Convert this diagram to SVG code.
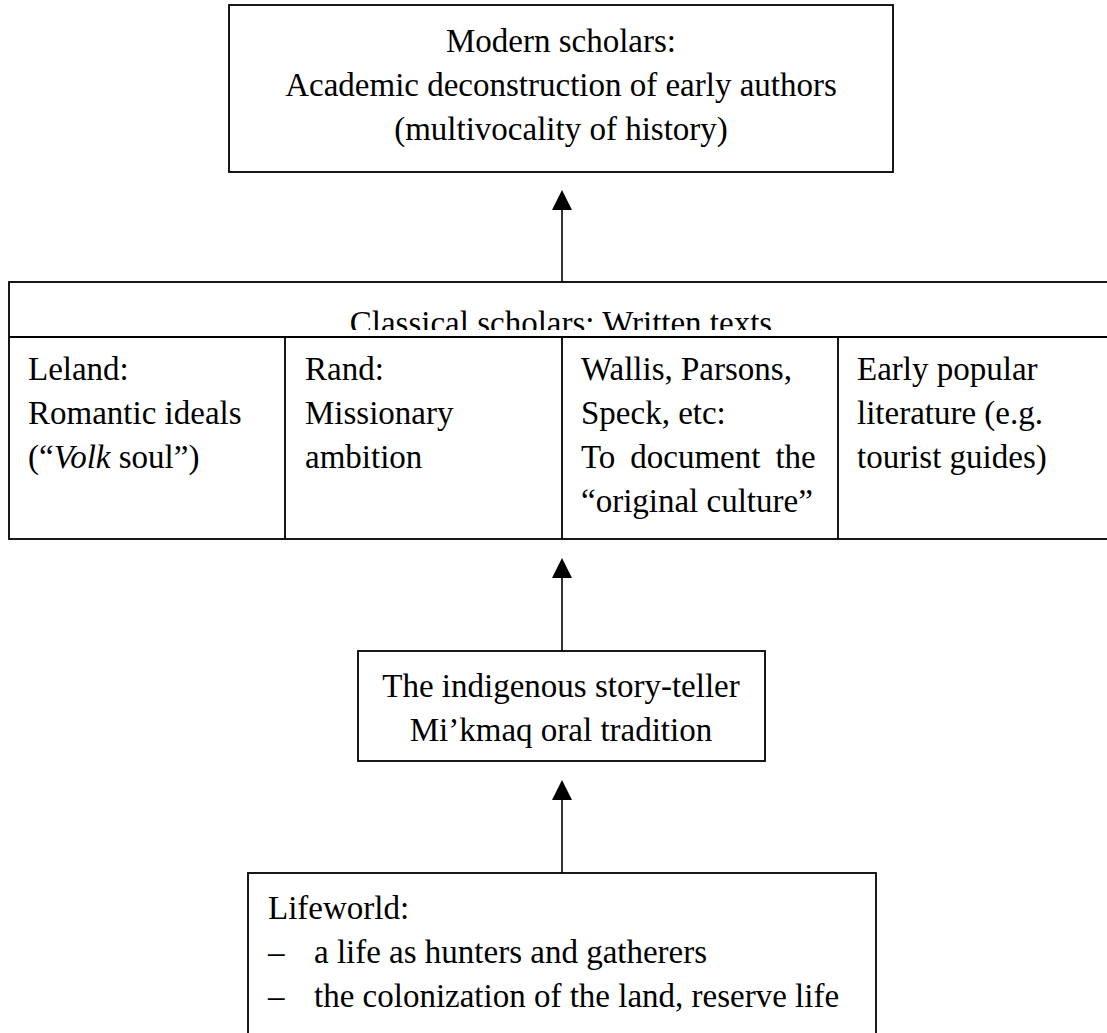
<svg xmlns="http://www.w3.org/2000/svg" width="1107" height="1033" viewBox="0 0 1107 1033">
<style>
  .box { fill: #ffffff; stroke: #000000; stroke-width: 1.8; }
  .ln { stroke: #000000; stroke-width: 1.8; fill: none; }
  .conn { stroke: #000000; stroke-width: 1.6; fill: none; }
  .t { font-family: "Liberation Serif", "Times New Roman", serif; font-size: 33px; fill: #000000; }
  .c { text-anchor: middle; }
</style>
<defs>
  <marker id="arrow" viewBox="0 0 20 20" refX="10" refY="0" markerWidth="20" markerHeight="20" markerUnits="userSpaceOnUse" orient="auto-start-reverse">
    <path d="M0,0 L10,0 L20,20 L0,20 Z" fill="none"/>
  </marker>
  <clipPath id="hdrclip"><rect x="0" y="282" width="1107" height="48"/></clipPath>
</defs>
<rect width="1107" height="1033" fill="#ffffff"/>

<g id="connectors">
  <line class="conn" x1="562" y1="282" x2="562" y2="208"/>
  <polygon points="562,190 552,210 572,210" fill="#000000"/>
  <line class="conn" x1="562" y1="651" x2="562" y2="576"/>
  <polygon points="562,558 552,578 572,578" fill="#000000"/>
  <line class="conn" x1="562" y1="873" x2="562" y2="798"/>
  <polygon points="562,780 552,800 572,800" fill="#000000"/>
</g>

<g id="node-modern">
  <rect class="box" x="229" y="5" width="664" height="167"/>
  <text class="t c" x="561" y="52">Modern scholars:</text>
  <text class="t c" x="561" y="96">Academic deconstruction of early authors</text>
  <text class="t c" x="561" y="140">(multivocality of history)</text>
</g>

<g id="node-classical">
  <rect class="box" x="9" y="282" width="1120" height="257"/>
  <line class="ln" x1="9" y1="337" x2="1120" y2="337"/>
  <line class="ln" x1="285" y1="337" x2="285" y2="539"/>
  <line class="ln" x1="562" y1="337" x2="562" y2="539"/>
  <line class="ln" x1="838" y1="337" x2="838" y2="539"/>
  <text class="t c" x="561" y="334" clip-path="url(#hdrclip)">Classical scholars: Written texts</text>
  <g id="cell-leland">
    <text class="t" x="28" y="380">Leland:</text>
    <text class="t" x="28" y="424">Romantic ideals</text>
    <text class="t" x="28" y="468">(“<tspan font-style="italic">Volk</tspan> soul”)</text>
  </g>
  <g id="cell-rand">
    <text class="t" x="305" y="380">Rand:</text>
    <text class="t" x="305" y="424">Missionary</text>
    <text class="t" x="305" y="468">ambition</text>
  </g>
  <g id="cell-wallis">
    <text class="t" x="581" y="380">Wallis, Parsons,</text>
    <text class="t" x="581" y="424">Speck, etc:</text>
    <text class="t" x="581" y="468" word-spacing="6.7">To document the</text>
    <text class="t" x="581" y="512">“original culture”</text>
  </g>
  <g id="cell-popular">
    <text class="t" x="857" y="380">Early popular</text>
    <text class="t" x="857" y="424">literature (e.g.</text>
    <text class="t" x="857" y="468">tourist guides)</text>
  </g>
</g>

<g id="node-storyteller">
  <rect class="box" x="358" y="651" width="407" height="110"/>
  <text class="t c" x="561" y="697">The indigenous story-teller</text>
  <text class="t c" x="561" y="741">Mi’kmaq oral tradition</text>
</g>

<g id="node-lifeworld">
  <rect class="box" x="248" y="873" width="628" height="200"/>
  <text class="t" x="268" y="919">Lifeworld:</text>
  <text class="t" x="268" y="963">–</text>
  <text class="t" x="314" y="963">a life as hunters and gatherers</text>
  <text class="t" x="268" y="1007">–</text>
  <text class="t" x="314" y="1007">the colonization of the land, reserve life</text>
</g>
</svg>
